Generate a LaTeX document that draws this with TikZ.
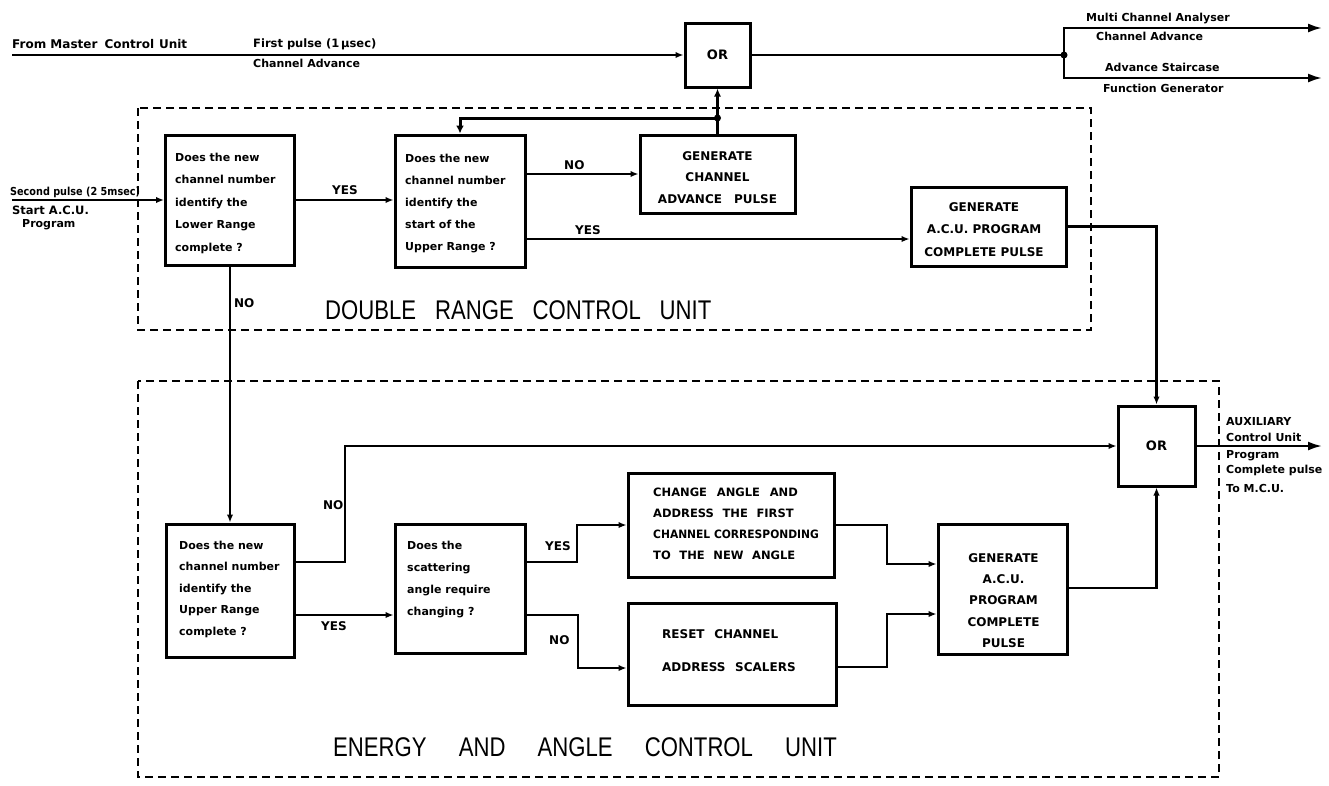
\documentclass[tikz,border=0pt]{standalone}
\usepackage{graphicx}
\usepackage{fontspec}
\newfontfamily\labfont{DejaVu Sans}
\newfontfamily\titlefont{Liberation Sans}
\usetikzlibrary{arrows.meta,calc}
\newcommand{\wsp}{\hspace{0.75em}}
\begin{document}
\begin{tikzpicture}[x=1pt,y=-1pt,
  box/.style={draw, line width=3pt, inner sep=0pt},
  orbox/.style={box, font=\labfont\bfseries\fontsize{13}{15}\selectfont},
  btxt/.style={font=\labfont\bfseries\fontsize{11}{22}\selectfont, inner sep=0pt, align=left, anchor=north west},
  ctxt/.style={font=\labfont\bfseries\fontsize{12}{22}\selectfont, inner sep=0pt, align=center},
  conn/.style={line width=2.2pt},
  thickconn/.style={line width=3pt},
  arr/.style={conn, -{Latex[length=8pt,width=6.5pt]}},
  bigarr/.style={conn, -{Latex[length=14pt,width=9pt]}},
  lab/.style={font=\labfont\bfseries\fontsize{11}{13}\selectfont, inner sep=0pt, anchor=west},
  yn/.style={font=\labfont\bfseries\fontsize{12}{14}\selectfont, inner sep=0pt, anchor=west},
  rlab/.style={font=\labfont\bfseries\fontsize{11}{12}\selectfont, inner sep=0pt, anchor=west},
  ttl/.style={font=\titlefont\fontsize{27}{27}\selectfont, inner sep=0pt, anchor=west},
  frame/.style={line width=2pt, dash pattern=on 8pt off 5pt},
  jdot/.style={circle, fill, inner sep=0pt, minimum size=7pt}]
\useasboundingbox (0,0) rectangle (1329,785);

% dashed unit frames
\draw[frame] (138,108) rectangle (1091,330);
\draw[frame] (138,381) rectangle (1219,777);

% boxes
\node[box, minimum width=129, minimum height=130] (b1) at (230,200) {};
\node[box, minimum width=130, minimum height=132] (b2) at (460,201) {};
\node[box, minimum width=155, minimum height=78] (b3) at (717.5,174) {};
\node[box, minimum width=155, minimum height=79] (b4) at (988.5,226.5) {};
\node[orbox, minimum width=65, minimum height=64] (or1) at (717.5,55) {OR};
\node[box, minimum width=128, minimum height=133] (b5) at (230,590.5) {};
\node[box, minimum width=130, minimum height=129] (b6) at (460,588.5) {};
\node[box, minimum width=206, minimum height=104] (b7) at (731,525) {};
\node[box, minimum width=208, minimum height=102] (b8) at (732,654) {};
\node[box, minimum width=129, minimum height=130] (b9) at (1002.5,589) {};
\node[orbox, minimum width=77, minimum height=80] (or2) at (1156.5,446) {OR};

% box texts
\node[btxt, font=\labfont\bfseries\fontsize{11}{22.5}\selectfont] (t1) at (175,152.5) {Does the new\\channel number\\identify the\\Lower Range\\complete ?};
\node[btxt] (t2) at (405,154) {Does the new\\channel number\\identify the\\start of the\\Upper Range ?};
\node[ctxt, font=\labfont\bfseries\fontsize{12}{21.5}\selectfont] (t3) at (717.5,177.5) {GENERATE\\CHANNEL\\ADVANCE\hspace{1em}PULSE};
\node[ctxt, font=\labfont\bfseries\fontsize{12}{22.5}\selectfont] (t4) at (984,229.5) {GENERATE\\A.C.U.\ PROGRAM\\COMPLETE PULSE};
\node[btxt, font=\labfont\bfseries\fontsize{11}{21.5}\selectfont] (t5) at (179,540.5) {Does the new\\channel number\\identify the\\Upper Range\\complete ?};
\node[btxt] (t6) at (407,540.5) {Does the\\scattering\\angle require\\changing ?};
\node[btxt, font=\labfont\bfseries\fontsize{11.5}{21}\selectfont] (t7) at (653,488) {CHANGE\hspace{0.85em}ANGLE\hspace{0.85em}AND\\ADDRESS\wsp THE\wsp FIRST\\\scalebox{0.93}[1]{CHANNEL CORRESPONDING}\\TO\wsp THE\wsp NEW\wsp ANGLE};
\node[btxt, font=\labfont\bfseries\fontsize{12}{33}\selectfont] (t8) at (662,629.5) {RESET\hspace{0.8em}CHANNEL\\ADDRESS\hspace{0.8em}SCALERS};
\node[ctxt, font=\labfont\bfseries\fontsize{12}{21.25}\selectfont] (t9) at (1003.5,600.5) {GENERATE\\A.C.U.\\PROGRAM\\COMPLETE\\PULSE};

% connectors
\coordinate (mcu) at (12,55);
\draw[arr] (mcu) -- (or1.west);
\coordinate (j1) at (1064,55);
\coordinate (mca) at (1322,28);
\coordinate (asf) at (1322,78);
\draw[conn] (or1.east) -- (j1);
\draw[bigarr] (j1) |- (mca);
\draw[bigarr] (j1) |- (asf);
\node[jdot] (j1d) at (j1) {};

\coordinate (spin) at (12,200);
\draw[arr] (spin) -- (b1.west);
\draw[arr] (b1.east) -- (b1.east -| b2.west);
\draw[arr] (b2.east |- b3.west) -- (b3.west);
\coordinate (yyes2) at (0,239);
\draw[arr] (b2.east |- yyes2) -- (b4.west |- yyes2);
\draw[thickconn, -{Latex[length=8pt,width=7pt]}] (b3.north) -- (or1.south);
\coordinate (j2) at (717.5,118);
\draw[thickconn, -{Latex[length=8pt,width=8pt]}] (j2) -| (b2.north);
\node[jdot] (j2d) at (j2) {};
\draw[arr] (b4.east) -| (or2.north);

\draw[arr] (b1.south) -- (b5.north);
\coordinate (n5a) at (345,562);
\coordinate (n5b) at (345,446);
\draw[arr] (b5.east |- n5a) -- (n5a) -- (n5b) -- (or2.west);
\coordinate (y5) at (0,615);
\draw[arr] (b5.east |- y5) -- (b6.west |- y5);
\coordinate (y6a) at (577,562);
\draw[arr] (b6.east |- y6a) -- (y6a) |- (b7.west);
\coordinate (n6a) at (578,615);
\coordinate (n6b) at (578,668);
\draw[arr] (b6.east |- n6a) -- (n6a) -- (n6b) -- (b8.west |- n6b);
\coordinate (c7a) at (887,525);
\coordinate (c7b) at (887,564);
\draw[arr] (b7.east) -- (c7a) -- (c7b) -- (b9.west |- c7b);
\coordinate (c8a) at (887,667);
\coordinate (c8b) at (887,614);
\draw[arr] (b8.east |- c8a) -- (c8a) -- (c8b) -- (b9.west |- c8b);
\coordinate (c9) at (1156.5,588);
\draw[arr] (b9.east |- c9) -- (c9) -- (or2.south);
\coordinate (aux) at (1322,446);
\draw[bigarr] (or2.east) -- (aux);

% labels
\node[lab, font=\labfont\bfseries\fontsize{12}{14}\selectfont] (l1) at (12,44) {From Master\hspace{0.6em}Control\hspace{0.4em}Unit};
\node[lab, font=\labfont\bfseries\fontsize{11.5}{14}\selectfont] (l2) at (253,44) {First pulse (1\,µsec)};
\node[lab] (l3) at (253,63) {Channel Advance};
\node[lab] (l4) at (1086,19) {Multi Channel Analyser};
\node[lab] (l5) at (1096,36) {Channel Advance};
\node[lab] (l6) at (1105,67) {Advance Staircase};
\node[lab] (l7) at (1103,88) {Function Generator};
\node[lab] (l8) at (10,192) {\scalebox{0.88}[1]{Second pulse (2 5msec)}};
\node[lab, font=\labfont\bfseries\fontsize{11.5}{14}\selectfont] (l9) at (12,210) {Start A.C.U.};
\node[lab] (l10) at (22,225) {Program};
\node[yn] (y1) at (332,190) {YES};
\node[yn] (n1) at (564,165) {NO};
\node[yn] (y2) at (575,230) {YES};
\node[yn] (n2) at (234,303) {NO};
\node[yn] (n3) at (323,505) {NO};
\node[yn] (y3) at (321,626) {YES};
\node[yn] (y4) at (545,546) {YES};
\node[yn] (n4) at (549,640) {NO};
\node[rlab] (a1) at (1226,422) {AUXILIARY};
\node[rlab] (a2) at (1226,437) {Control Unit};
\node[rlab] (a3) at (1226,456) {Program};
\node[rlab] (a4) at (1226,470) {Complete pulse};
\node[rlab] (a5) at (1226,488) {To M.C.U.};

% unit titles
\node[ttl] (drcu) at (325,310) {\scalebox{0.82}[1]{DOUBLE\hspace{0.85em}RANGE\hspace{0.85em}CONTROL\hspace{0.85em}UNIT}};
\node[ttl] (eacu) at (333,747) {\scalebox{0.82}[1]{ENERGY\hspace{1.45em}AND\hspace{1.45em}ANGLE\hspace{1.45em}CONTROL\hspace{1.45em}UNIT}};
\end{tikzpicture}
\end{document}
